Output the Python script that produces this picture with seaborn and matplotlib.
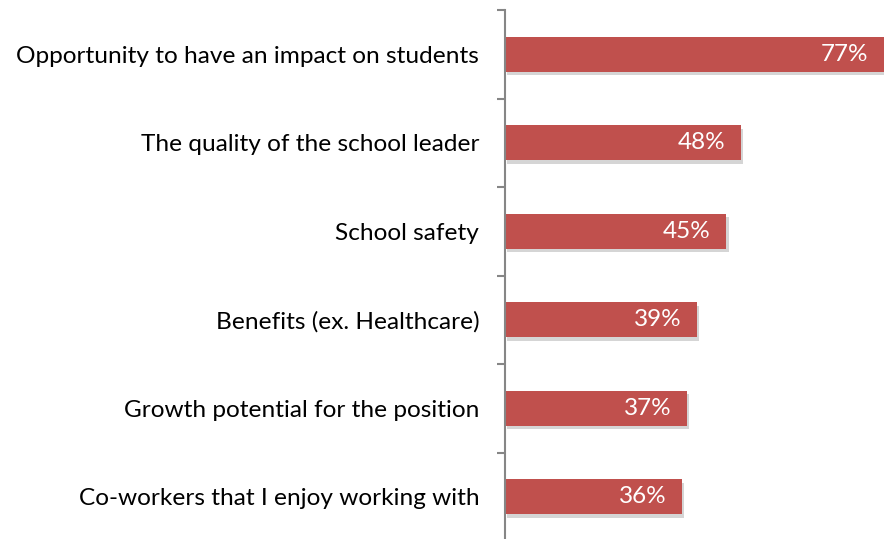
import matplotlib
matplotlib.use("Agg")
import matplotlib.pyplot as plt
import matplotlib.patheffects as pe
import seaborn as sns
import pandas as pd
import numpy as np

categories = [
    "Opportunity to have an impact on students",
    "The quality of the school leader",
    "School safety",
    "Benefits (ex. Healthcare)",
    "Growth potential for the position",
    "Co-workers that I enjoy working with",
]
values = [77, 48, 45, 39, 37, 36]
value_labels = ["77%", "48%", "45%", "39%", "37%", "36%"]

sns.set_theme(style="white")
plt.rcParams['font.family'] = ['Lato', 'DejaVu Sans']

df = pd.DataFrame({"category": categories, "value": values})

fig = plt.figure(figsize=(8.84, 5.39), dpi=100)
ax = fig.add_axes([505/884, (539-541)/539, (884-505)/884, (541-10)/539])

sns.barplot(data=df, y="category", x="value", orient="h", color="#C0504D",
            saturation=1, width=0.4, linewidth=0, ax=ax)

for p in ax.patches:
    p.set_path_effects([pe.SimplePatchShadow(offset=(1.5, -2.5), shadow_rgbFace="#888888", alpha=0.35), pe.Normal()])

for i, (v, lab) in enumerate(zip(values, value_labels)):
    ax.text(v - 3.2, i, lab, ha="right", va="center", color="white", fontsize=17.5)

ax.set_xlim(0, 77)
ax.set_ylim(5.5, -0.5)
ax.set_xlabel("")
ax.set_ylabel("")
ax.set_xticks([])
for s in ["top", "right", "bottom"]:
    ax.spines[s].set_visible(False)
ax.spines["left"].set_color("#868686")
ax.spines["left"].set_linewidth(1.5)
ax.tick_params(axis="y", which="major", length=0, pad=18.5, labelsize=17.6, labelcolor="black")
ax.set_yticks(np.arange(-0.5, 6.0, 1.0), minor=True)
ax.tick_params(axis="y", which="minor", left=True, length=6, width=1.5, color="#868686")

fig.savefig("out.png", dpi=100)
